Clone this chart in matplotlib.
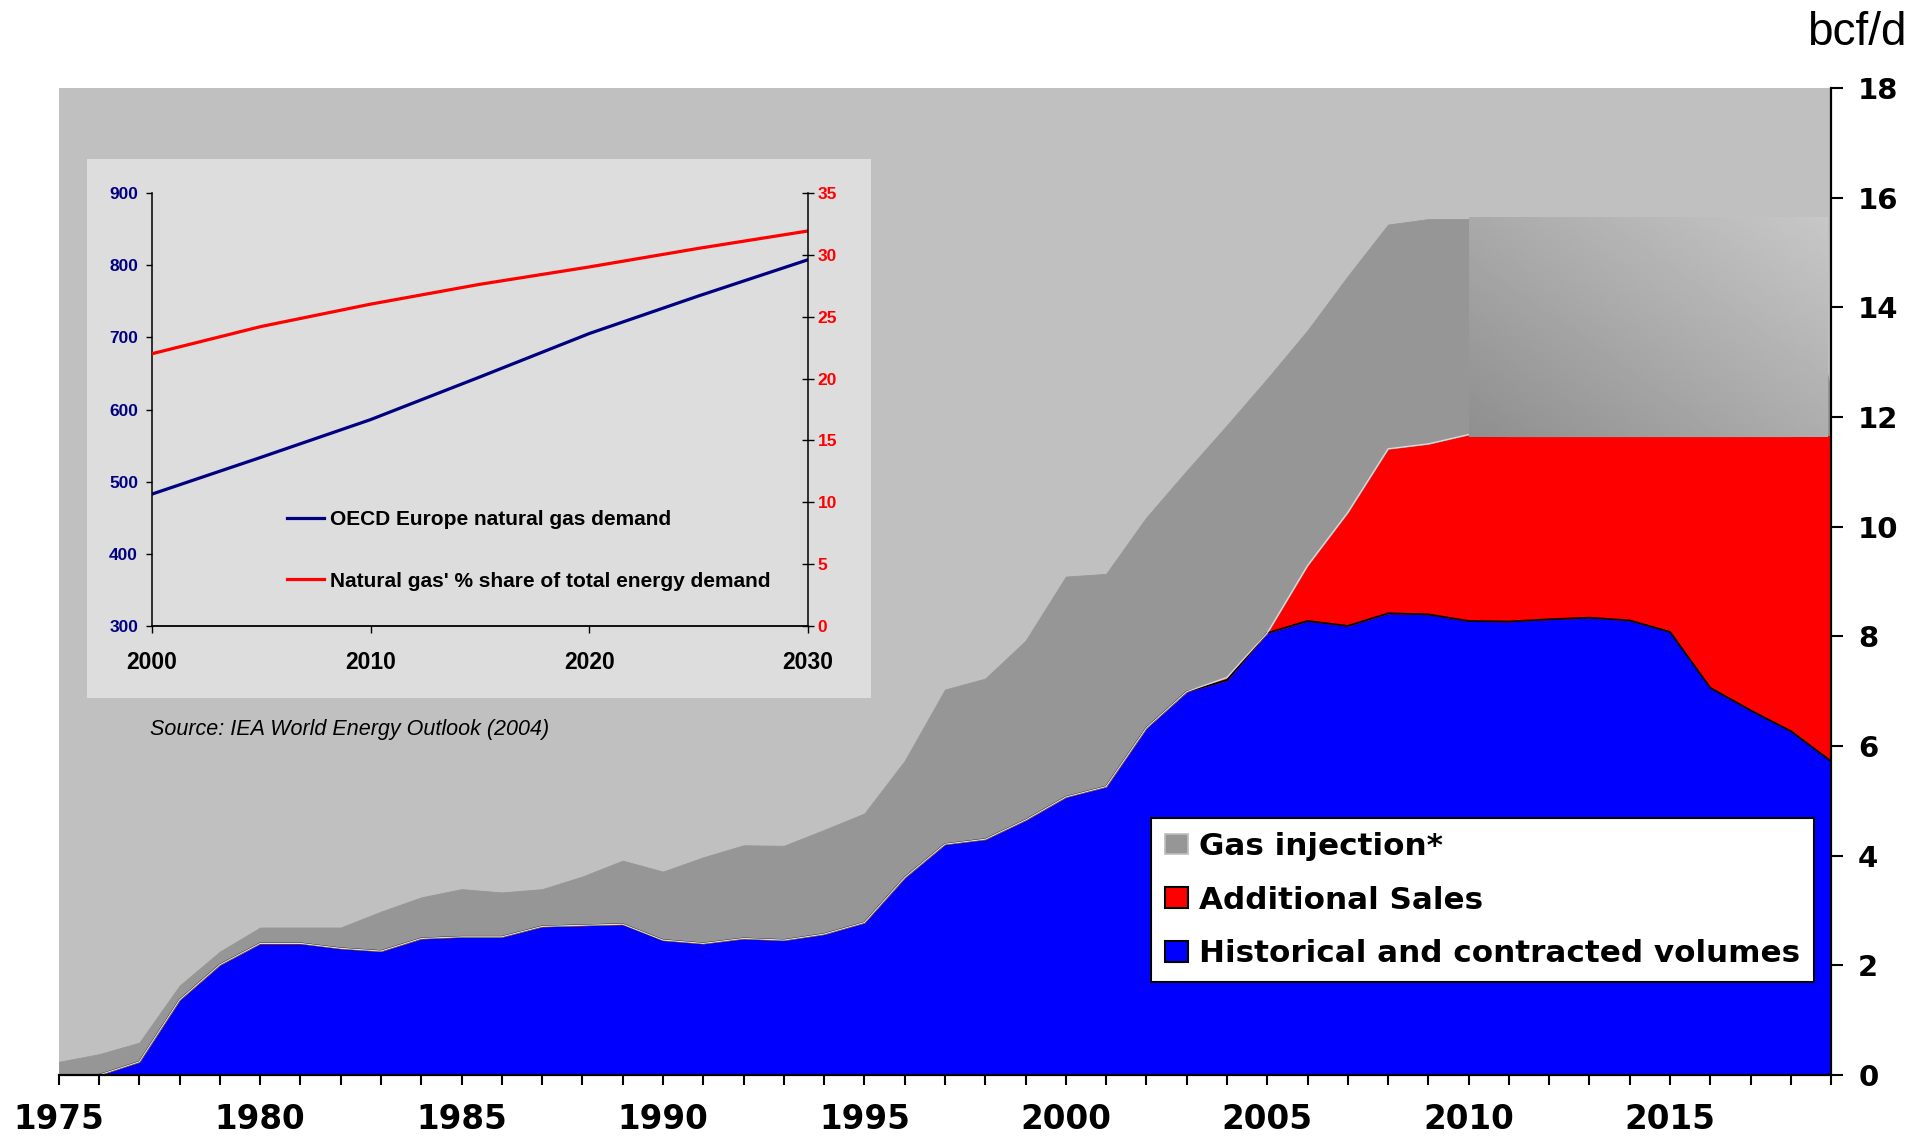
import numpy as np
import matplotlib.pyplot as plt
from matplotlib.patches import Patch, Rectangle

# main chart data (bcf/d), one value per year 1975-2019
years = np.arange(1975, 2020)
historical = [0.00, 0.00, 0.24, 1.37, 2.01, 2.40, 2.40, 2.31, 2.26, 2.49,
              2.52, 2.52, 2.71, 2.73, 2.75, 2.46, 2.40, 2.49, 2.46, 2.57,
              2.78, 3.60, 4.21, 4.30, 4.65, 5.07, 5.26, 6.33, 6.99, 7.20,
              8.06, 8.28, 8.19, 8.42, 8.40, 8.28, 8.27, 8.31, 8.34, 8.29,
              8.08, 7.06, 6.65, 6.27, 5.72]
additional = [0, 0, 0, 0, 0, 0, 0, 0, 0, 0,
              0, 0, 0, 0, 0, 0, 0, 0, 0, 0,
              0, 0, 0, 0, 0, 0, 0, 0, 0, 0.05,
              0.00, 1.01, 2.07, 3.00, 3.11, 3.40, 3.38, 3.34, 3.31, 3.36,
              3.57, 4.59, 5.00, 5.38, 5.95]
injection = [0.24, 0.38, 0.35, 0.26, 0.24, 0.29, 0.29, 0.38, 0.72, 0.75,
             0.87, 0.81, 0.68, 0.89, 1.16, 1.25, 1.57, 1.70, 1.72, 1.90,
             1.99, 2.13, 2.82, 2.93, 3.27, 4.02, 3.88, 3.84, 4.03, 4.60,
             4.64, 4.29, 4.31, 4.09, 4.10, 3.93, 3.96, 3.96, 3.96, 3.96,
             3.96, 3.96, 3.96, 3.96, 0.81]
labels = ["Gas injection*", "Additional Sales", "Historical and contracted volumes"]

# grey box drawn over the forecast injection
cover_x = [2010, 2018.9]
cover_y = [11.64, 15.65]

# inset (IEA WEO 2004)
inset_years = [2000, 2005, 2010, 2015, 2020, 2025, 2030]
oecd_demand = [483, 534, 586, 645, 705, 757, 807]
gas_share = [22.0, 24.2, 26.0, 27.6, 29.0, 30.5, 31.9]
inset_labels = ["OECD Europe natural gas demand",
                "Natural gas' % share of total energy demand"]

W, H = 1931, 1144
fig = plt.figure(figsize=(W/100, H/100), dpi=100)

ax = fig.add_axes([58.7/W, 69/H, 1772.5/W, 987/H])
ax.set_facecolor('#C0C0C0')
bottom = np.zeros(len(years))
for vals, col in zip([historical, additional, injection], ['#0000FF', '#FF0000', '#969696']):
    top = bottom + np.array(vals)
    ax.fill_between(years, bottom, top, color=col, lw=0.6, edgecolor=col, zorder=2)
    bottom = top

# outlines between the layers
red_top = np.array(historical) + np.array(additional)
ax.plot(years, historical, color='black', lw=1.3, zorder=3)
m = years <= 2010
ax.plot(years[m], red_top[m], color='#DCDCDC', lw=0.9, zorder=3)

# gradient cover box
u = np.linspace(0, 1, 200)
v = np.linspace(0, 1, 100)
grad = 143 + 30*u[None, :] + 26*v[:, None]
ax.imshow(grad, cmap='gray', vmin=0, vmax=255, origin='lower', aspect='auto',
          extent=[cover_x[0], cover_x[1], cover_y[0], cover_y[1]],
          interpolation='bilinear', zorder=4)

ax.set_xlim(1975, 2019)
ax.set_ylim(0, 18)
for s in ['left', 'top']:
    ax.spines[s].set_visible(False)
for s in ['right', 'bottom']:
    ax.spines[s].set_linewidth(1.6)
    ax.spines[s].set_zorder(5)

ax.set_xticks(years)
ax.set_xticklabels([str(y) if y % 5 == 0 else '' for y in years],
                   fontsize=23.5, fontweight='bold')
ax.tick_params(axis='x', direction='out', length=7.5, width=1.5, pad=13)
ax.yaxis.tick_right()
ax.set_yticks(range(0, 19, 2))
ax.set_yticklabels([str(t) for t in range(0, 19, 2)], fontsize=21, fontweight='bold')
ax.tick_params(axis='y', direction='out', length=8.4, width=1.5, pad=11)

fig.text(1906.7/W, 1 - 45/H, 'bcf/d', ha='right', va='baseline',
         fontsize=33, family='Liberation Sans')

handles = [Patch(facecolor='#969696', edgecolor='#BEBEBE', lw=1.2),
           Patch(facecolor='#FF0000', edgecolor='black', lw=1.5),
           Patch(facecolor='#0000FF', edgecolor='black', lw=1.5)]
leg = ax.legend(handles, labels, loc='upper left',
                bbox_to_anchor=(1151/W, 1 - 818/H), bbox_transform=fig.transFigure,
                prop=dict(weight='bold', size=22.3), frameon=True, fancybox=False,
                edgecolor='black', framealpha=1, borderpad=0.45, labelspacing=0.8,
                handlelength=0.75, handleheight=0.65, handletextpad=0.36,
                borderaxespad=0)
leg.get_frame().set_linewidth(1.5)
leg.set_zorder(10)

# inset panel
fig.add_artist(Rectangle((87/W, 1 - 697.5/H), 784/W, 538.5/H, transform=fig.transFigure,
                         facecolor='#DDDDDD', edgecolor='none', zorder=1))

ax2 = fig.add_axes([152/W, 1 - 626.4/H, 655.7/W, 433.8/H])
ax2.set_zorder(2)
ax2.patch.set_visible(False)
l1, = ax2.plot(inset_years, oecd_demand, color='#000080', lw=2.3)
ax2.set_xlim(2000, 2030)
ax2.set_ylim(300, 900)
ax2.set_xticks([2000, 2010, 2020, 2030])
ax2.set_xticklabels(['2000', '2010', '2020', '2030'], fontsize=16.5,
                    fontweight='bold', family='Liberation Sans')
ax2.set_yticks(range(300, 901, 100))
ax2.set_yticklabels([str(t) for t in range(300, 901, 100)], fontsize=12.5,
                    fontweight='bold', family='Liberation Sans', color='#000080')
ax2.tick_params(axis='x', direction='out', length=5, width=1, pad=13)
ax2.tick_params(axis='y', direction='out', length=4, width=1, pad=6)
for s in ['top', 'right']:
    ax2.spines[s].set_visible(False)
ax2.spines['left'].set_linewidth(1.1)
ax2.spines['bottom'].set_linewidth(1.3)

ax3 = ax2.twinx()
ax3.set_zorder(3)
l2, = ax3.plot(inset_years, gas_share, color='#FF0000', lw=2.3)
ax3.set_ylim(0, 35)
ax3.set_yticks(range(0, 36, 5))
ax3.set_yticklabels([str(t) for t in range(0, 36, 5)], fontsize=12.5,
                    fontweight='bold', family='Liberation Sans', color='#FF0000')
ax3.tick_params(axis='y', direction='inout', length=8, width=1, pad=3)
for s in ['top', 'left', 'bottom']:
    ax3.spines[s].set_visible(False)
ax3.spines['right'].set_linewidth(1.1)

ax3.legend([l1, l2], inset_labels, loc='upper left',
           bbox_to_anchor=(287/W, 1 - 510/H), bbox_transform=fig.transFigure,
           frameon=False, prop=dict(family='Liberation Sans', weight='bold', size=15),
           handlelength=1.76, handletextpad=0.29, labelspacing=2.05,
           borderpad=0, borderaxespad=0)

fig.text(150.4/W, 1 - 729.9/H, 'Source: IEA World Energy Outlook (2004)',
         ha='left', va='center', style='italic', fontsize=15.5,
         family='Liberation Sans', zorder=3)

fig.savefig('out.png', dpi=100)
